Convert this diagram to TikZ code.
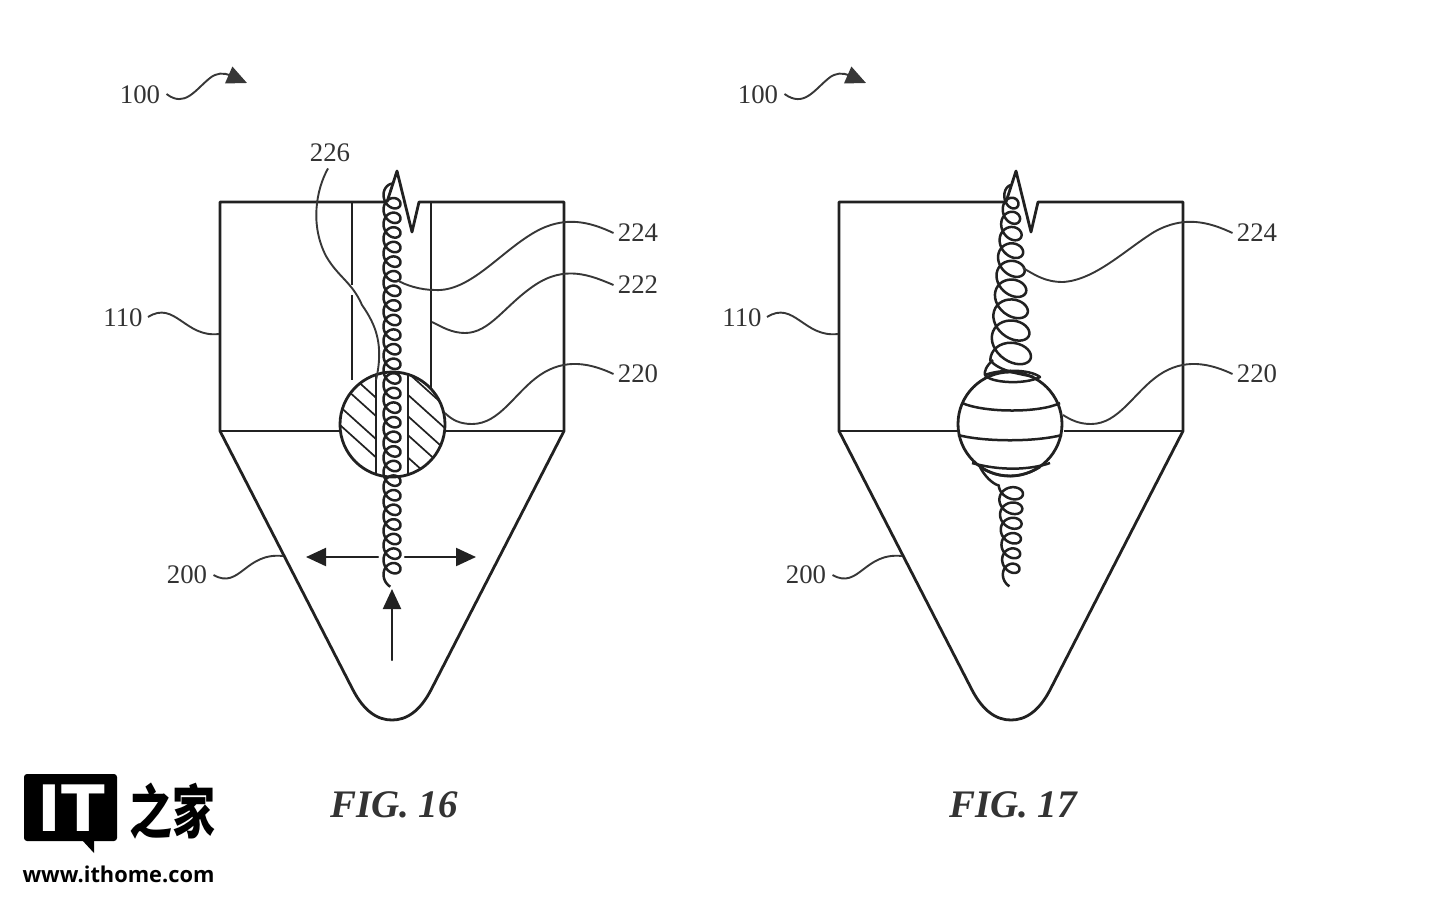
\documentclass[tikz,border=0pt]{standalone}
\usepackage{fontspec}
\setmainfont{Liberation Serif}
\newfontfamily\cjkfont{Noto Sans CJK SC}
\newfontfamily\logofont{DejaVu Sans}
\newfontfamily\urlfont{Open Sans}
\usetikzlibrary{arrows.meta}
\definecolor{ink}{gray}{0.13}
\tikzset{
  wire/.style={draw=ink,line width=1.4pt,line join=round},
  thinwire/.style={draw=ink,line width=1.1pt,line cap=round},
  coilwire/.style={draw=ink,line width=1.25pt,line join=round},
  leader/.style={draw=ink!90,line width=0.95pt},
  hatch/.style={draw=ink,line width=0.85pt},
  lab/.style={font=\fontsize{13.4pt}{14pt}\selectfont,text=black!80,inner sep=0pt},
  figlab/.style={font=\fontsize{19.5pt}{20pt}\selectfont\bfseries\itshape,text=black!80,inner sep=0pt},
  headtip/.style={-{Triangle[length=10pt,width=9pt]}},
}
\begin{document}
\begin{tikzpicture}[x=0.5pt,y=-0.5pt]
\useasboundingbox (0,0) rectangle (1440,901);
% ---------- labels
\node[lab] (a100) at (140,95) {100};
\node[lab] (b100) at (758,95) {100};
\node[lab] (a226) at (330,153) {226};
\node[lab] (a110) at (123,318) {110};
\node[lab] (b110) at (742,318) {110};
\node[lab] (a200) at (187,575) {200};
\node[lab] (b200) at (806,575) {200};
\node[lab] (a224) at (638,233) {224};
\node[lab] (b224) at (1257,233) {224};
\node[lab] (a222) at (638,285) {222};
\node[lab] (a220) at (638,374) {220};
\node[lab] (b220) at (1257,374) {220};
\node[figlab] (f16) at (394,805) {FIG. 16};
\node[figlab] (f17) at (1013,805) {FIG. 17};
% ---------- free ends
\coordinate (a100t) at (247,83);
\coordinate (b100t) at (866,83);
\coordinate (a110e) at (219,334);
\coordinate (b110e) at (838,334);
\coordinate (a200e) at (283,556);
\coordinate (b200e) at (902,556);
\coordinate (a224e) at (397,280);
\coordinate (b224e) at (1023,268);
\coordinate (a222e) at (432,322);
\coordinate (a220e) at (445,413);
\coordinate (b220e) at (1063,415);
\coordinate (a226e) at (376,380);
\coordinate (l1) at (378,557);
\coordinate (l2) at (306,557);
\coordinate (r1) at (405,557);
\coordinate (r2) at (476,557);
\coordinate (u1) at (392,660);
\coordinate (u2) at (392,589);
% ---------- bodies
\foreach \s in {0,309.5}{
\begin{scope}[xshift=\s pt]
  \draw[wire] (387,202) -- (220,202) -- (220,431) -- (352,688)
     .. controls (364,712) and (378,720) .. (392,720)
     .. controls (406,720) and (420,712) .. (432,688) -- (564,431) -- (564,202) -- (419,202)
     -- (412,232) -- (397,171) -- (387,202);
  \draw[wire] (220,431) -- (340,431) (445,431) -- (564,431);
\end{scope}}
% ---------- FIG 16 channel and ball
\draw[wire] (352,202) -- (352,285) (352,295) -- (352,380) (431,202) -- (431,388);
\fill[white] (392.5,424.5) circle[radius=52.5];
\begin{scope}
  \clip (392.5,424.5) circle[radius=52.5];
  \foreach \c in {-92,-37,32,87}{
    \draw[hatch] (330,{360+0.9*30+\c/3}) -- (376,{360+0.9*76+\c/3});}
  \foreach \c in {-253,-187,-123,-66,1}{
    \draw[hatch] (408,{360+0.9*108+\c/3}) -- (455,{360+0.9*155+\c/3});}
  \draw[wire] (376,365) -- (376,485) (408,365) -- (408,485);
\end{scope}
\draw[wire] (392.5,424.5) circle[radius=52.5];
% FIG 16 coil
\draw[coilwire] plot[domain=-0.75:25.72,samples=800]
  ({392+8.5*cos(360*\x)},{203+14.6*\x-8.5*sin(360*\x)+0.8*cos(360*\x)});
% ---------- FIG 17 coil and ball
\draw[wire] (1010,424) circle[radius=52];
\draw[coilwire] plot[domain=-0.75:8.5,samples=300]
  ({1011+(7.5+1.56*\x)*cos(360*\x)},{203+14*\x+0.59*\x*\x-(8.5+0.9*\x)*sin(360*\x)+(1+0.35*\x)*cos(360*\x)})
  .. controls (1000,372) and (1022,374) .. (1034,377);
\draw[coilwire] (993,360) .. controls (986,366) and (984,372) .. (985,375)
  .. controls (990,383) and (1025,385) .. (1040,377)
  .. controls (1030,369) and (1000,369) .. (985,375);
\draw[coilwire] (962,403) .. controls (985,413) and (1040,413) .. (1060,403);
\draw[coilwire] (958,435) .. controls (985,442) and (1035,442) .. (1062,435);
\draw[coilwire] (972,463) .. controls (1000,471) and (1030,470) .. (1050,463);
\coordinate (tailstart) at (980,467);
\draw[coilwire] (tailstart) .. controls (1000,480) and (1022,478) .. (1040,467);
\draw[coilwire] (tailstart) .. controls (984,475) and (992,484) .. (999,485.5);
\draw[coilwire] plot[domain=-0.5:5.72,samples=220]
  ({1011+(12-0.7*\x)*cos(360*\x)},{493+15*\x-(9.5-0.3*\x)*sin(360*\x)+0.8*cos(360*\x)});
% ---------- leaders
\draw[leader,headtip] (a100.east) ++(6,-1) .. controls (185,108) and (195,90) .. (210,78)
   .. controls (216,73) and (224,72) .. (231,76) -- (a100t);
\draw[leader,headtip] (b100.east) ++(6,-1) .. controls (804,108) and (814,90) .. (829,78)
   .. controls (835,73) and (843,72) .. (850,76) -- (b100t);
\draw[leader] (a110.east) ++(5,-1) .. controls (175,300) and (185,338) .. (a110e);
\draw[leader] (b110.east) ++(5,-1) .. controls (794,300) and (804,338) .. (b110e);
\draw[leader] (a200.east) ++(6,0) .. controls (240,590) and (245,552) .. (a200e);
\draw[leader] (b200.east) ++(6,0) .. controls (859,590) and (864,552) .. (b200e);
\draw[leader] (a224.west) ++(-4,0) .. controls (590,222) and (565,215) .. (535,232)
   .. controls (500,252) and (470,292) .. (435,290) .. controls (420,290) and (405,285) .. (a224e);
\draw[leader] (b224.west) ++(-4,0) .. controls (1209,222) and (1184,215) .. (1154,232)
   .. controls (1125,250) and (1095,280) .. (1063,282) .. controls (1045,282) and (1035,275) .. (b224e);
\draw[leader] (a222.west) ++(-4,0) .. controls (590,275) and (565,265) .. (535,285)
   .. controls (505,305) and (490,333) .. (465,333) .. controls (452,333) and (442,327) .. (a222e);
\draw[leader] (a220.west) ++(-4,0) .. controls (590,363) and (565,358) .. (540,375)
   .. controls (515,392) and (500,424) .. (472,424) .. controls (460,424) and (452,420) .. (a220e);
\draw[leader] (b220.west) ++(-4,0) .. controls (1209,363) and (1184,358) .. (1159,375)
   .. controls (1134,392) and (1119,424) .. (1091,424) .. controls (1079,424) and (1071,420) .. (b220e);
\draw[leader] (a226.south) ++(-2,6) .. controls (316,190) and (310,225) .. (326,256)
   .. controls (338,277) and (352,282) .. (362,305)
   .. controls (376,325) and (384,345) .. (a226e);
% ---------- movement arrows
\draw[thinwire,headtip] (l1) -- (l2);
\draw[thinwire,headtip] (r1) -- (r2);
\draw[thinwire,headtip] (u1) -- (u2);
% ---------- logo
\fill[black,rounded corners=1.5pt] (24,774) rectangle (117,841);
\fill[black] (82,840) -- (94,853) -- (94,840) -- cycle;
\node[text=white,inner sep=0pt,font=\logofont\bfseries\fontsize{32pt}{32pt}\selectfont] (itlogo) at (71,808) {IT};
\node[inner sep=0pt,text=black,yscale=1.35,font=\cjkfont\bfseries\fontsize{21.5pt}{24pt}\selectfont] (zhlogo) at (172,811) {之家};
\node[inner sep=0pt,text=black,font=\urlfont\bfseries\fontsize{10.9pt}{12pt}\selectfont] (urllogo) at (118.5,874) {www.ithome.com};
\end{tikzpicture}
\end{document}
